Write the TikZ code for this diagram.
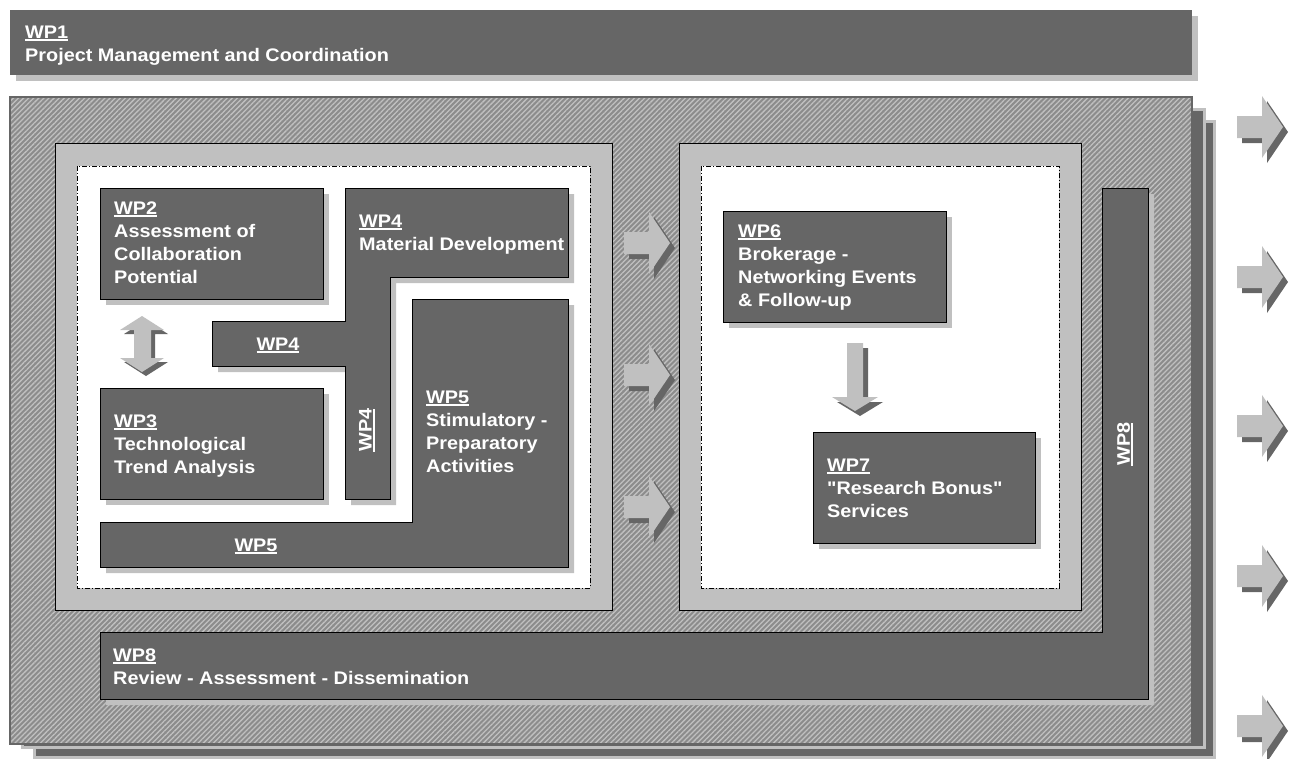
\documentclass[tikz,border=0pt]{standalone}
\usepackage{fontspec}
\newfontfamily\wpfont{Liberation Sans}[FakeStretch=1.09]
\usetikzlibrary{patterns.meta}
\definecolor{wpdark}{HTML}{666666}
\definecolor{wplight}{HTML}{C0C0C0}
\definecolor{wpmid}{HTML}{8C8C8C}
\newsavebox\wpbox
\newcommand\wpu[1]{\sbox\wpbox{#1}\rlap{\rule[-3.2pt]{\wd\wpbox}{1.8pt}}\usebox\wpbox}
\newcommand\wplines[1]{\begin{tabular}[t]{@{}l@{}}#1\end{tabular}}
\begin{document}
\begin{tikzpicture}[x=1pt,y=-1pt,
	wptext/.style={text=white,inner sep=0pt,
		font=\wpfont\bfseries\fontsize{18.2}{23.3}\selectfont},
	wpshape/.style={fill=wpdark,draw=black,line width=0.9pt},
	wpshadow/.style={fill=wplight,shift={(6,6)}},
	rarrow/.pic={
		\fill[wpdark,shift={(5,5)}] (0,-11) -- (25,-11) -- (25,-31) -- (46,0)
		-- (25,31) -- (25,11) -- (0,11) -- cycle;
		\fill[wplight] (0,-11) -- (25,-11) -- (25,-31) -- (46,0)
		-- (25,31) -- (25,11) -- (0,11) -- cycle;}]
	\useasboundingbox (0,0) rectangle (1290,758);
	% WP1 bar
	\fill[wplight] (16,16) rectangle (1198,81);
	\fill[wpdark] (10,10) rectangle (1192,75);
	\node[wptext,anchor=base west] (wp1) at (25,38)
	{\wplines{\wpu{WP1}\\Project Management and Coordination}};
	% stacked hatched frame
	\filldraw[fill=wpdark,draw=wplight,line width=3pt] (34,121.5) rectangle (1214.5,757);
	\filldraw[fill=wpdark,draw=wplight,line width=3pt] (22,109.5) rectangle (1204.5,747.5);
	\fill[wpmid] (10,97) rectangle (1192,744);
	\fill[pattern={Lines[angle=45,distance=3.6pt,line width=1.3pt]},pattern color=wplight]
	(10,97) rectangle (1192,744);
	\draw[wpdark,line width=2.5pt] (10,97) rectangle (1192,744);
	% panels
	\filldraw[fill=wplight,draw=black,line width=0.9pt] (55,143) rectangle (612,610);
	\filldraw[fill=white,draw=black,line width=0.7pt,dash pattern=on 5pt off 2pt on 1pt off 2pt]
	(77,166) rectangle (590,588);
	\filldraw[fill=wplight,draw=black,line width=0.9pt] (679,143) rectangle (1081,610);
	\filldraw[fill=white,draw=black,line width=0.7pt,dash pattern=on 5pt off 2pt on 1pt off 2pt]
	(701,166) rectangle (1059,588);
	% WP8
	\fill[wpshadow] (1102,188) -- (1148,188) -- (1148,699) -- (100,699) -- (100,632)
	-- (1102,632) -- cycle;
	\draw[wpshape] (1102,188) -- (1148,188) -- (1148,699) -- (100,699) -- (100,632)
	-- (1102,632) -- cycle;
	\node[wptext,anchor=base west] (wp8) at (113,661)
	{\wplines{\wpu{WP8}\\Review - Assessment - Dissemination}};
	\node[wptext,rotate=90] (wp8v) at (1125,444) {\wpu{WP8}};
	% WP2 and WP3
	\fill[wpshadow] (100,188) rectangle (323,299);
	\draw[wpshape] (100,188) rectangle (323,299);
	\node[wptext,anchor=base west] (wp2) at (114,214)
	{\wplines{\wpu{WP2}\\Assessment of\\Collaboration\\Potential}};
	\fill[wpshadow] (100,388) rectangle (323,499);
	\draw[wpshape] (100,388) rectangle (323,499);
	\node[wptext,anchor=base west] (wp3) at (114,427)
	{\wplines{\wpu{WP3}\\Technological\\Trend Analysis}};
	% WP4
	\fill[wpshadow] (345,188) -- (568,188) -- (568,277) -- (390,277) -- (390,499)
	-- (345,499) -- (345,366) -- (212,366) -- (212,321) -- (345,321) -- cycle;
	\draw[wpshape] (345,188) -- (568,188) -- (568,277) -- (390,277) -- (390,499)
	-- (345,499) -- (345,366) -- (212,366) -- (212,321) -- (345,321) -- cycle;
	\node[wptext,anchor=base west] (wp4) at (359,227)
	{\wplines{\wpu{WP4}\\Material Development}};
	\node[wptext,anchor=base] (wp4h) at (278,350) {\wpu{WP4}};
	\node[wptext,rotate=90] (wp4v) at (367,430) {\wpu{WP4}};
	% WP5
	\fill[wpshadow] (412,299) -- (568,299) -- (568,567) -- (100,567) -- (100,522)
	-- (412,522) -- cycle;
	\draw[wpshape] (412,299) -- (568,299) -- (568,567) -- (100,567) -- (100,522)
	-- (412,522) -- cycle;
	\node[wptext,anchor=base west] (wp5) at (426,403)
	{\wplines{\wpu{WP5}\\Stimulatory -\\Preparatory\\Activities}};
	\node[wptext,anchor=base] (wp5h) at (256,551) {\wpu{WP5}};
	% WP6 and WP7
	\fill[wpshadow] (723,211) rectangle (946,322);
	\draw[wpshape] (723,211) rectangle (946,322);
	\node[wptext,anchor=base west] (wp6) at (738,237)
	{\wplines{\wpu{WP6}\\Brokerage -\\Networking Events\\\& Follow-up}};
	\fill[wpshadow] (813,432) rectangle (1035,543);
	\draw[wpshape] (813,432) rectangle (1035,543);
	\node[wptext,anchor=base west] (wp7) at (827,471)
	{\wplines{\wpu{WP7}\\"Research Bonus"\\Services}};
	% block arrows
	\fill[wpdark,shift={(4,4)}] (142,316) -- (164,330) -- (151,330) -- (151,358) -- (164,358)
	-- (142,372) -- (120,358) -- (134,358) -- (134,330) -- (120,330) -- cycle;
	\fill[wplight] (142,316) -- (164,330) -- (151,330) -- (151,358) -- (164,358)
	-- (142,372) -- (120,358) -- (134,358) -- (134,330) -- (120,330) -- cycle;
	\fill[wpdark,shift={(5,5)}] (847,343) -- (863,343) -- (863,397) -- (878,397)
	-- (855,411) -- (832,397) -- (847,397) -- cycle;
	\fill[wplight] (847,343) -- (863,343) -- (863,397) -- (878,397)
	-- (855,411) -- (832,397) -- (847,397) -- cycle;
	\foreach \y in {243,375,507}
	\pic at (624,\y) {rarrow};
	\foreach \y in {127,277,426,576,726}
	\pic at (1237,\y) {rarrow};
\end{tikzpicture}
\end{document}
